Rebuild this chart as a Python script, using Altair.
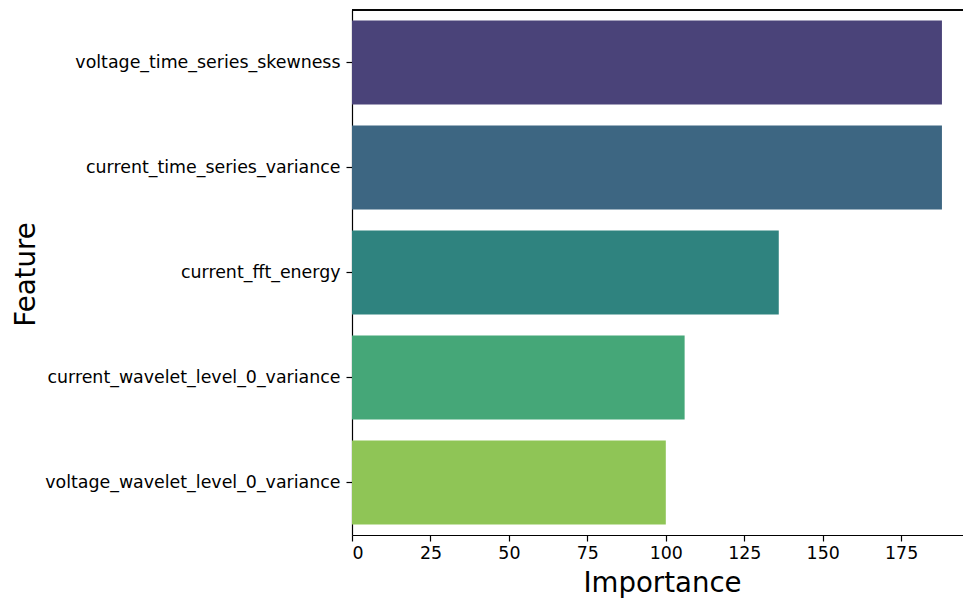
import altair as alt
import pandas as pd

features = [
    "voltage_time_series_skewness",
    "current_time_series_variance",
    "current_fft_energy",
    "current_wavelet_level_0_variance",
    "voltage_wavelet_level_0_variance",
]
importance = [188, 188, 136, 106, 100]
colors = ["#4A4379", "#3D6682", "#2F837F", "#45A778", "#8FC556"]
x_ticks = [0, 25, 50, 75, 100, 125, 150, 175]

df = pd.DataFrame({"Feature": features, "Importance": importance})

W, H = 611, 525
PX_PER_UNIT = 3.138
FONT = "DejaVu Sans"

bars = alt.Chart(df).mark_bar().encode(
    y=alt.Y(
        "Feature:N",
        sort=features,
        scale=alt.Scale(paddingInner=0.2, paddingOuter=0.1),
        axis=alt.Axis(
            title="Feature",
            labelFont=FONT, labelFontSize=17.4, labelColor="black",
            labelPadding=6, tickSize=6, tickColor="black", tickWidth=1.2,
            domainColor="black", domainWidth=1.2, grid=False,
            titleFont=FONT, titleFontSize=27.6, titleFontWeight="normal",
            titleColor="black", titleX=-326, titleY=264, titleAngle=270,
            titleAlign="center", titleBaseline="middle",
            labelLimit=400,
        ),
    ),
    x=alt.X(
        "Importance:Q",
        scale=alt.Scale(domain=[0, W / PX_PER_UNIT], nice=False, zero=True),
        axis=alt.Axis(
            title="Importance", values=x_ticks,
            labelFont=FONT, labelFontSize=17.4, labelColor="black",
            labelPadding=3, tickSize=6, tickColor="black", tickWidth=1.2,
            domainColor="black", domainWidth=1.2, grid=False,
            titleFont=FONT, titleFontSize=27.6, titleFontWeight="normal",
            titleColor="black", titleX=310, titleY=56, titleBaseline="alphabetic",
        ),
    ),
    color=alt.Color("Feature:N", scale=alt.Scale(domain=features, range=colors), legend=None),
)

top_spine = alt.Chart(df).mark_rule(color="black", strokeWidth=1.2).encode(
    x=alt.value(0), x2=alt.value(W), y=alt.value(0)
)

chart = alt.layer(bars, top_spine).properties(
    width=W, height=H,
    autosize=alt.AutoSizeParams(type="none"),
    padding={"left": 344, "top": 2, "right": 0, "bottom": 64},
).configure_view(stroke=None).configure(background="white")

chart.save("out.html", embed_options={"renderer": "svg", "actions": False})
